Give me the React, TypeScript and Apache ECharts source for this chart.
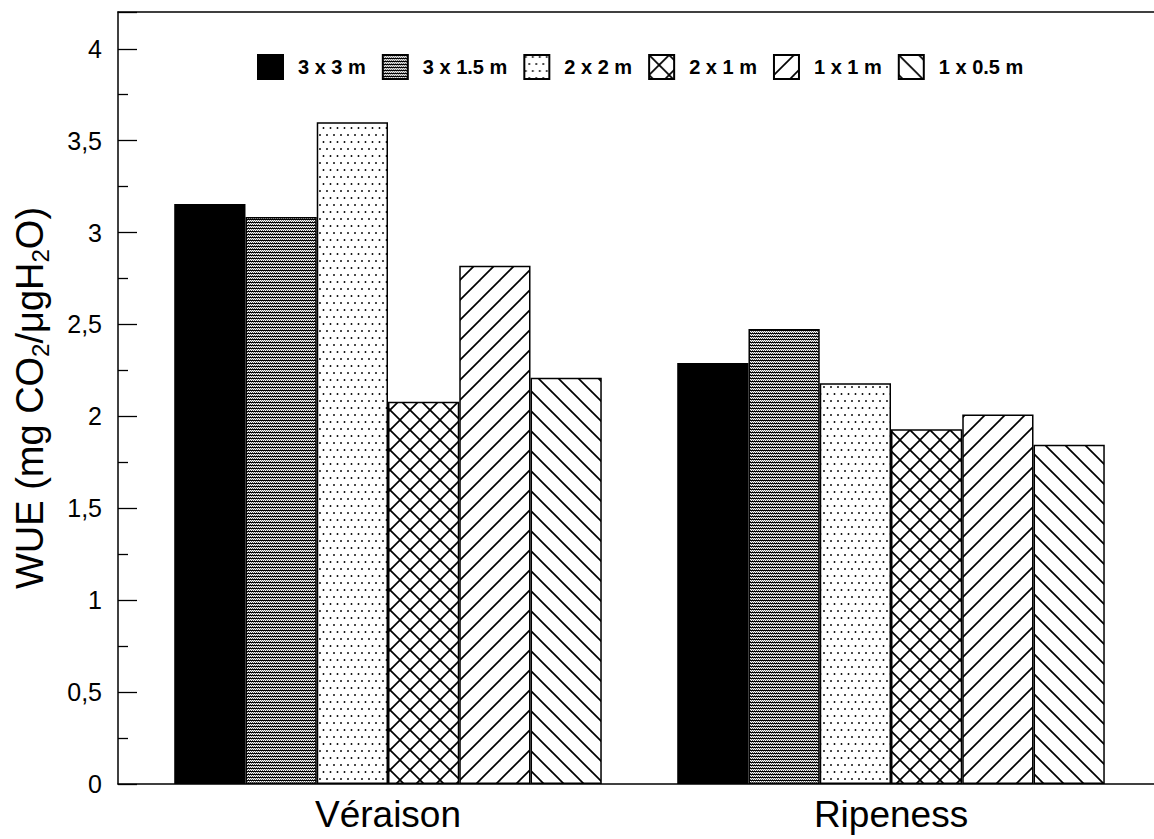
import React, { useEffect, useRef } from "react";
import * as echarts from "echarts";

const categories = ["Véraison", "Ripeness"];
const seriesNames = ["3 x 3 m", "3 x 1.5 m", "2 x 2 m", "2 x 1 m", "1 x 1 m", "1 x 0.5 m"];
const values3x3 = [3.155, 2.29];
const values3x15 = [3.085, 2.475];
const values2x2 = [3.6, 2.18];
const values2x1 = [2.08, 1.93];
const values1x1 = [2.82, 2.01];
const values1x05 = [2.21, 1.845];
const yTicks = { min: 0, max: 4.2, interval: 0.5 };

function makeCanvas(w: number, h: number, draw: (ctx: CanvasRenderingContext2D) => void) {
  const c = document.createElement("canvas");
  c.width = w;
  c.height = h;
  const ctx = c.getContext("2d")!;
  ctx.fillStyle = "#fff";
  ctx.fillRect(0, 0, w, h);
  draw(ctx);
  return c;
}

function makePatterns() {
  const gray = makeCanvas(2, 3, (ctx) => {
    ctx.fillStyle = "#000";
    ctx.fillRect(0, 0, 2, 1);
    ctx.fillStyle = "#777";
    ctx.fillRect(1, 1, 1, 1);
    ctx.fillStyle = "#555";
    ctx.fillRect(0, 2, 1, 1);
  });
  const dots = makeCanvas(7, 14, (ctx) => {
    ctx.fillStyle = "#000";
    ctx.beginPath();
    ctx.arc(1.5, 2, 0.95, 0, Math.PI * 2);
    ctx.fill();
    ctx.beginPath();
    ctx.arc(5, 9, 0.95, 0, Math.PI * 2);
    ctx.fill();
  });
  const S = 20;
  const lineTile = (back: boolean, fwd: boolean) =>
    makeCanvas(S, S, (ctx) => {
      ctx.strokeStyle = "#000";
      ctx.lineWidth = 1.7;
      for (let k = -1; k <= 1; k++) {
        if (back) {
          ctx.beginPath();
          ctx.moveTo(k * S - 5, -5);
          ctx.lineTo(k * S + S + 5, S + 5);
          ctx.stroke();
        }
        if (fwd) {
          ctx.beginPath();
          ctx.moveTo(k * S - 5, S + 5);
          ctx.lineTo(k * S + S + 5, -5);
          ctx.stroke();
        }
      }
    });
  return {
    gray: { image: gray, repeat: "repeat" },
    dots: { image: dots, repeat: "repeat" },
    cross: { image: lineTile(true, true), repeat: "repeat" },
    fwd: { image: lineTile(false, true), repeat: "repeat" },
    back: { image: lineTile(true, false), repeat: "repeat" },
  };
}

export default function App() {
  const ref = useRef<HTMLDivElement>(null);
  useEffect(() => {
    if (!ref.current) return;
    const chart = echarts.init(ref.current, undefined, { renderer: "svg" });
    const p = makePatterns();
    const fills: any[] = ["#000", p.gray, p.dots, p.cross, p.fwd, p.back];
    const data = [values3x3, values3x15, values2x2, values2x1, values1x1, values1x05];
    const font = "Liberation Sans, Arial, Helvetica, sans-serif";
    const frameAxis = (pos: string) => ({
      type: "value",
      gridIndex: 1,
      position: pos,
      min: 0,
      max: 1,
      axisLine: { show: true, lineStyle: { color: "#000", width: 1.5 } },
      axisTick: { show: false },
      axisLabel: { show: false },
      splitLine: { show: false },
    });
    chart.setOption({
      animation: false,
      backgroundColor: "#fff",
      textStyle: { fontFamily: font, color: "#000" },
      legend: {
        data: seriesNames,
        left: 252,
        top: 49,
        itemWidth: 25,
        itemHeight: 24,
        itemGap: 16,
        icon: "rect",
        textStyle: { fontFamily: font, fontSize: 20, fontWeight: "bold", color: "#000", padding: [0, 0, 0, 10] },
      },
      grid: [
        { left: 136.5, right: 11.5, top: 12, bottom: 55 },
        { left: 118, right: 0, top: 12, bottom: 55 },
      ],
      xAxis: [
        {
          type: "category",
          gridIndex: 0,
          data: categories,
          axisLine: { show: false },
          axisTick: { show: false },
          axisLabel: { fontSize: 37, color: "#000", margin: 12, fontFamily: font },
        },
        frameAxis("bottom"),
        frameAxis("top"),
      ],
      yAxis: [
        {
          type: "value",
          gridIndex: 0,
          min: yTicks.min,
          max: yTicks.max,
          interval: yTicks.interval,
          show: false,
          splitLine: { show: false },
        },
        {
          type: "value",
          gridIndex: 1,
          min: yTicks.min,
          max: yTicks.max,
          interval: yTicks.interval,
          axisLine: { show: true, lineStyle: { color: "#000", width: 1.5 } },
          axisTick: { show: true, inside: true, length: 19, lineStyle: { color: "#000", width: 1.3 } },
          minorTick: { show: true, splitNumber: 2, length: 10, lineStyle: { color: "#000", width: 1.3 } },
          splitLine: { show: false },
          axisLabel: {
            fontSize: 25,
            color: "#000",
            margin: 16,
            fontFamily: font,
            showMaxLabel: false,
            formatter: (v: number) => (v > 4.01 ? "" : String(v).replace(".", ",")),
          },
          name: "WUE (mg CO{s|2}/μgH{s|2}O)",
          nameLocation: "middle",
          nameRotate: 90,
          nameGap: 66,
          nameTextStyle: {
            fontSize: 38,
            color: "#000",
            fontFamily: font,
            lineHeight: 44,
            rich: {
              s: { fontSize: 24, verticalAlign: "bottom", lineHeight: 22, fontFamily: font, color: "#000" },
            },
          },
        },
      ],
      series: seriesNames.map((name, i) => ({
        name,
        type: "bar",
        xAxisIndex: 0,
        yAxisIndex: 0,
        data: data[i],
        barGap: "0%",
        barCategoryGap: "15%",
        itemStyle: { color: fills[i], borderColor: "#000", borderWidth: 1.5 },
      })),
    });
    return () => chart.dispose();
  }, []);
  return <div ref={ref} style={{ position: "fixed", left: 0, top: 0, width: 1154, height: 839 }} />;
}
